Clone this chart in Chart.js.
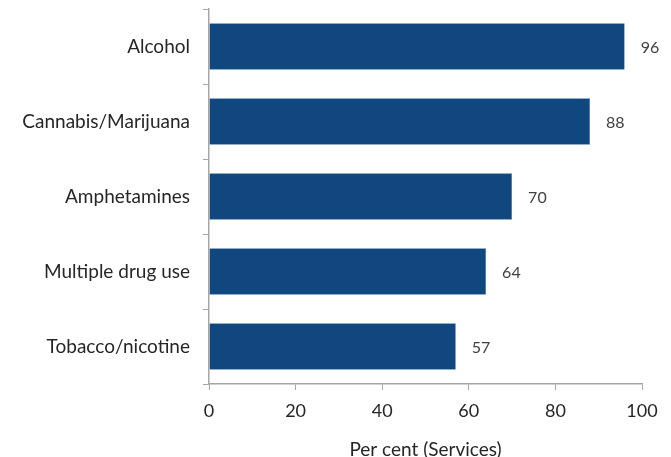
<!DOCTYPE html>
<html lang="en">
<head>
  <meta charset="UTF-8" />
  <title>Drug types treated by services</title>
  <script src="https://cdn.jsdelivr.net/npm/chart.js"></script>
  <style>
    html, body { margin: 0; padding: 0; background: #fff; }
    .wrap { width: 671px; height: 457px; position: relative; }
  </style>
</head>
<body>
  <div class="wrap">
    <canvas id="myChart" width="671" height="457"></canvas>
  </div>

  <script>
    // dados do gráfico
    const categories = ['Alcohol', 'Cannabis/Marijuana', 'Amphetamines', 'Multiple drug use', 'Tobacco/nicotine'];
    const percentValues = [96, 88, 70, 64, 57];
    const xTicks = [0, 20, 40, 60, 80, 100];

    const barColor = '#11477F';
    const axisColor = '#A6A6A6';
    const textColor = '#262626';
    const fontFamily = 'Lato, "Open Sans", sans-serif';

    // rótulos no fim das barras
    const valueLabels = {
      id: 'valueLabels',
      afterDatasetsDraw(chart) {
        const c = chart.ctx;
        const meta = chart.getDatasetMeta(0);
        c.save();
        c.font = '16px ' + fontFamily;
        c.fillStyle = '#404040';
        c.textBaseline = 'middle';
        c.textAlign = 'left';
        meta.data.forEach((bar, i) => {
          c.fillText(String(percentValues[i]), bar.x + 16, bar.y + 1);
        });
        c.restore();
      }
    };

    const ctx = document.getElementById('myChart').getContext('2d');
    const myChart = new Chart(ctx, {
      type: 'bar',
      data: {
        labels: categories,
        datasets: [{
          data: percentValues,
          backgroundColor: barColor,
          borderColor: '#3A6A9C',
          borderWidth: 0.6,
          categoryPercentage: 0.62,
          barPercentage: 1
        }]
      },
      options: {
        indexAxis: 'y',
        responsive: false,
        animation: false,
        layout: { padding: { top: 9, right: 29, left: 0, bottom: 0 } },
        plugins: {
          legend: { display: false },
          tooltip: { enabled: false }
        },
        scales: {
          x: {
            min: 0,
            max: 100,
            afterBuildTicks: (axis) => { axis.ticks = xTicks.map(v => ({ value: v })); },
            afterFit: (axis) => {
              axis.height = 73;
              axis.paddingLeft = 0;
              axis.paddingRight = 0;
            },
            grid: {
              drawOnChartArea: false,
              drawTicks: true,
              tickLength: 6,
              color: axisColor
            },
            border: { color: axisColor, width: 1.5 },
            ticks: {
              color: textColor,
              font: { family: fontFamily, size: 18 },
              padding: 10
            },
            title: {
              display: true,
              text: 'Per cent (Services)',
              color: textColor,
              font: { family: fontFamily, size: 19 },
              padding: { top: 6, bottom: -4 }
            }
          },
          y: {
            afterFit: (axis) => {
              axis.width = 209;
              axis.paddingTop = 0;
              axis.paddingBottom = 0;
            },
            grid: {
              drawOnChartArea: false,
              drawTicks: true,
              tickLength: 6,
              offset: true,
              color: axisColor
            },
            border: { color: axisColor, width: 1.5 },
            ticks: {
              color: textColor,
              font: { family: fontFamily, size: 19 },
              padding: 13
            }
          }
        }
      },
      plugins: [valueLabels]
    });
  </script>
</body>
</html>
